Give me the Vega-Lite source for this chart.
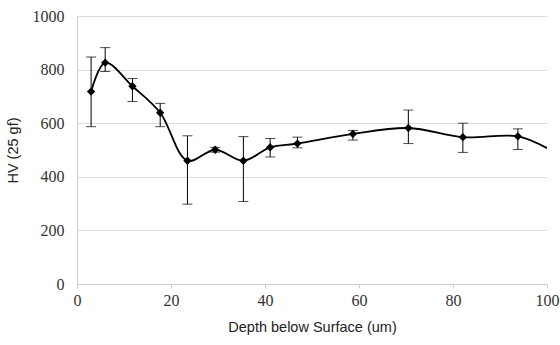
{
  "$schema": "https://vega.github.io/schema/vega-lite/v6.json",
  "autosize": "none",
  "width": 470,
  "height": 268,
  "padding": {"left": 77, "top": 16, "right": 13, "bottom": 61},
  "background": "white",
  "config": {
    "view": {"stroke": null},
    "axis": {
      "labelFont": "Liberation Serif",
      "labelFontSize": 16,
      "labelColor": "#333",
      "titleFont": "Liberation Sans",
      "titleFontSize": 14.5,
      "titleFontWeight": "normal",
      "titleColor": "#222",
      "gridColor": "#dddddd",
      "domainColor": "#cccccc",
      "tickColor": "#cccccc"
    }
  },
  "data": {
    "values": [
      {"depth": 3.0, "hv": 718, "lo": 587, "hi": 847, "m": 1},
      {"depth": 6.0, "hv": 826, "lo": 793, "hi": 882, "m": 1},
      {"depth": 11.8, "hv": 738, "lo": 681, "hi": 767, "m": 1},
      {"depth": 17.7, "hv": 639, "lo": 587, "hi": 674, "m": 1},
      {"depth": 23.5, "hv": 460, "lo": 298, "hi": 553, "m": 1},
      {"depth": 29.4, "hv": 501, "lo": 492, "hi": 510, "m": 1},
      {"depth": 35.4, "hv": 460, "lo": 308, "hi": 550, "m": 1},
      {"depth": 41.1, "hv": 510, "lo": 474, "hi": 543, "m": 1},
      {"depth": 46.9, "hv": 524, "lo": 508, "hi": 548, "m": 1},
      {"depth": 58.7, "hv": 560, "lo": 537, "hi": 573, "m": 1},
      {"depth": 70.5, "hv": 582, "lo": 524, "hi": 649, "m": 1},
      {"depth": 82.1, "hv": 548, "lo": 491, "hi": 600, "m": 1},
      {"depth": 93.8, "hv": 551, "lo": 502, "hi": 579, "m": 1},
      {"depth": 100, "hv": 507, "m": 0}
    ]
  },
  "encoding": {
    "x": {
      "field": "depth", "type": "quantitative",
      "scale": {"domain": [0, 100], "nice": false},
      "axis": {"values": [0, 20, 40, 60, 80, 100], "grid": false, "title": "Depth below Surface (um)", "titlePadding": 12, "labelPadding": 4, "tickSize": 4, "labelFlush": false, "labelFont": "Liberation Serif", "labelFontSize": 16}
    }
  },
  "layer": [
    {
      "transform": [{"filter": "datum.m == 1"}],
      "mark": {"type": "errorbar", "ticks": {"size": 10, "color": "black", "strokeWidth": 1.7}, "color": "black", "strokeWidth": 1.7},
      "encoding": {
        "y": {
          "field": "lo", "type": "quantitative",
          "scale": {"domain": [0, 1000], "nice": false},
          "axis": {"values": [0, 200, 400, 600, 800, 1000], "format": "d", "grid": true, "title": "HV (25 gf)", "titlePadding": 12, "labelPadding": 13, "tickSize": 0, "domain": true, "labelFont": "Liberation Serif", "labelFontSize": 16}
        },
        "y2": {"field": "hi"}
      }
    },
    {
      "mark": {"type": "line", "interpolate": "catmull-rom", "color": "black", "strokeWidth": 1.8, "clip": true},
      "encoding": {
        "y": {"field": "hv", "type": "quantitative"}
      }
    },
    {
      "transform": [{"filter": "datum.m == 1"}],
      "mark": {"type": "point", "shape": "diamond", "filled": true, "color": "black", "size": 70, "opacity": 1},
      "encoding": {
        "y": {"field": "hv", "type": "quantitative"}
      }
    }
  ]
}
